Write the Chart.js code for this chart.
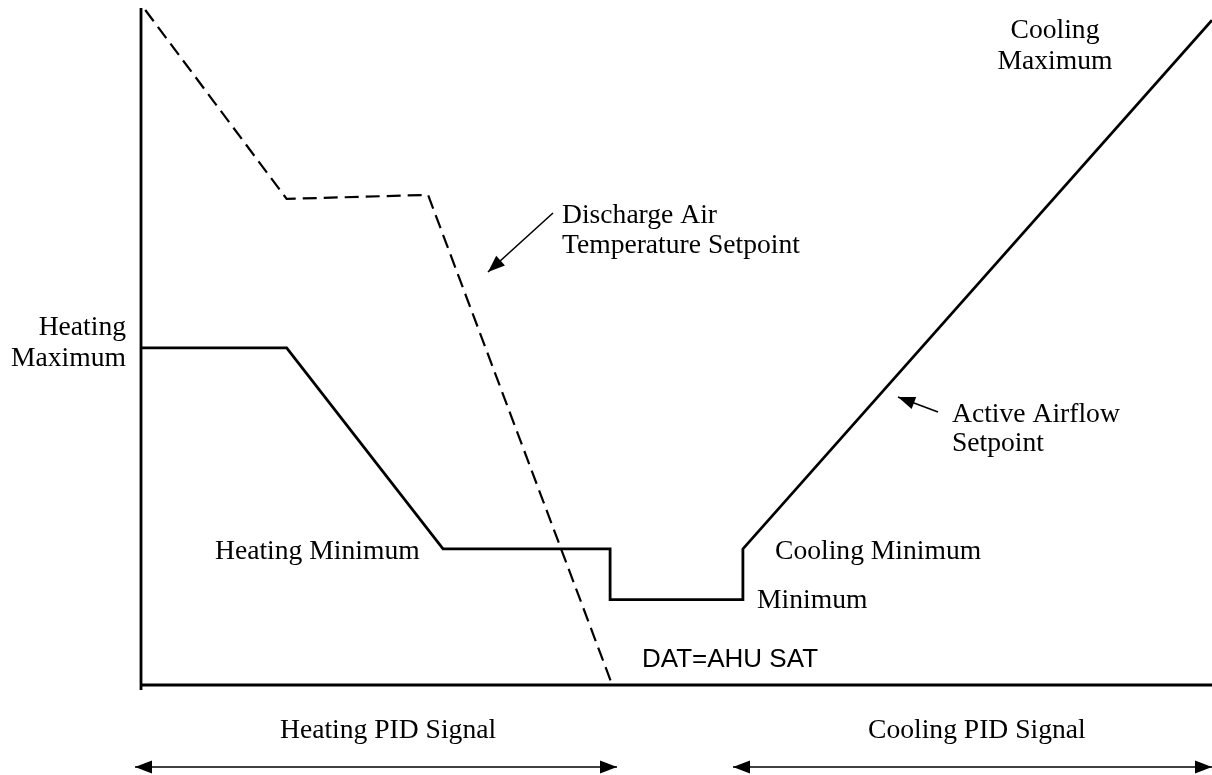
<!DOCTYPE html>
<html>
<head>
<meta charset="utf-8">
<script src="https://cdn.jsdelivr.net/npm/chart.js@4.4.1/dist/chart.umd.min.js"></script>
<style>
  html, body { margin: 0; padding: 0; background: #fff; }
  #wrap { width: 1212px; height: 775px; }
</style>
</head>
<body>
<div id="wrap"><canvas id="chart" width="1212" height="775"></canvas></div>
<script>
// signal position (0-100 across the PID range) and setpoint level (0-100)
const datSignal = [0.4, 13.6, 26.8, 44.0];
const datLevel = [99.7, 71.8, 72.4, 0];

const airflowSignal = [0, 13.6, 28.2, 43.8, 43.8, 56.2, 56.2, 100];
const airflowLevel = [49.8, 49.8, 20.1, 20.1, 12.6, 12.6, 20.1, 98.2];

const toPoints = (xs, ys) => xs.map((x, i) => ({ x: x, y: ys[i] }));

const serif = '27.6px "Liberation Serif", "Times New Roman", serif';
const sans = '26px "Liberation Sans", Arial, sans-serif';

// text labels: [text, x, baseline y, align, font]
const notes = [
    ['Cooling', 1055, 38, 'center', serif],
    ['Maximum', 1055, 69, 'center', serif],
    ['Discharge Air', 562, 223, 'left', serif],
    ['Temperature Setpoint', 562, 253, 'left', serif],
    ['Heating', 126, 335, 'right', serif],
    ['Maximum', 126, 366, 'right', serif],
    ['Active Airflow', 952, 422, 'left', serif],
    ['Setpoint', 952, 451, 'left', serif],
    ['Heating Minimum', 215, 559, 'left', serif],
    ['Cooling Minimum', 775, 559, 'left', serif],
    ['Minimum', 757, 608, 'left', serif],
    ['DAT=AHU SAT', 642, 667, 'left', sans],
    ['Heating PID Signal', 280, 738, 'left', serif],
    ['Cooling PID Signal', 868, 738, 'left', serif]
];

// pointer arrows: [fromX, fromY, toX, toY, heads at both ends]
const arrows = [
    [553, 213, 488, 272, false],
    [938, 412, 898, 397, false],
    [135, 767, 617, 767, true],
    [733, 767, 1212, 767, true]
];

function arrowHead(ctx, x0, y0, x1, y1) {
    const a = Math.atan2(y1 - y0, x1 - x0);
    const len = 17, half = 6.5;
    ctx.beginPath();
    ctx.moveTo(x1, y1);
    ctx.lineTo(x1 - len * Math.cos(a) + half * Math.sin(a), y1 - len * Math.sin(a) - half * Math.cos(a));
    ctx.lineTo(x1 - len * Math.cos(a) - half * Math.sin(a), y1 - len * Math.sin(a) + half * Math.cos(a));
    ctx.closePath();
    ctx.fill();
}

const decorations = {
    id: 'decorations',
    beforeDatasetsDraw(chart) {
        const ctx = chart.ctx;
        const area = chart.chartArea;
        ctx.save();
        ctx.strokeStyle = '#000';
        ctx.lineWidth = 2.8;
        ctx.beginPath();
        ctx.moveTo(area.left, area.top);
        ctx.lineTo(area.left, area.bottom + 5);
        ctx.moveTo(area.left, area.bottom);
        ctx.lineTo(area.right, area.bottom);
        ctx.stroke();
        ctx.restore();
    },
    afterDatasetsDraw(chart) {
        const ctx = chart.ctx;
        ctx.save();
        ctx.fillStyle = '#000';
        ctx.strokeStyle = '#000';
        ctx.lineWidth = 1.6;
        arrows.forEach(([x0, y0, x1, y1, both]) => {
            ctx.beginPath();
            ctx.moveTo(x0, y0);
            ctx.lineTo(x1, y1);
            ctx.stroke();
            arrowHead(ctx, x0, y0, x1, y1);
            if (both) arrowHead(ctx, x1, y1, x0, y0);
        });
        ctx.textBaseline = 'alphabetic';
        notes.forEach(([text, x, y, align, font]) => {
            ctx.font = font;
            ctx.textAlign = align;
            ctx.fillText(text, x, y);
        });
        ctx.restore();
    }
};

new Chart(document.getElementById('chart').getContext('2d'), {
    type: 'line',
    data: {
        datasets: [
            {
                label: 'Discharge Air Temperature Setpoint',
                data: toPoints(datSignal, datLevel),
                borderColor: '#000',
                borderWidth: 2.2,
                borderDash: [14, 7],
                pointRadius: 0,
                tension: 0,
                clip: false
            },
            {
                label: 'Active Airflow Setpoint',
                data: toPoints(airflowSignal, airflowLevel),
                borderColor: '#000',
                borderWidth: 2.8,
                borderJoinStyle: 'miter',
                pointRadius: 0,
                tension: 0,
                clip: false
            }
        ]
    },
    options: {
        responsive: false,
        animation: false,
        devicePixelRatio: 1,
        layout: {
            padding: { left: 141, right: 0, top: 8, bottom: 90 }
        },
        scales: {
            x: { type: 'linear', min: 0, max: 100, display: false },
            y: { type: 'linear', min: 0, max: 100, display: false }
        },
        plugins: {
            legend: { display: false },
            tooltip: { enabled: false }
        }
    },
    plugins: [decorations]
});
</script>
</body>
</html>
